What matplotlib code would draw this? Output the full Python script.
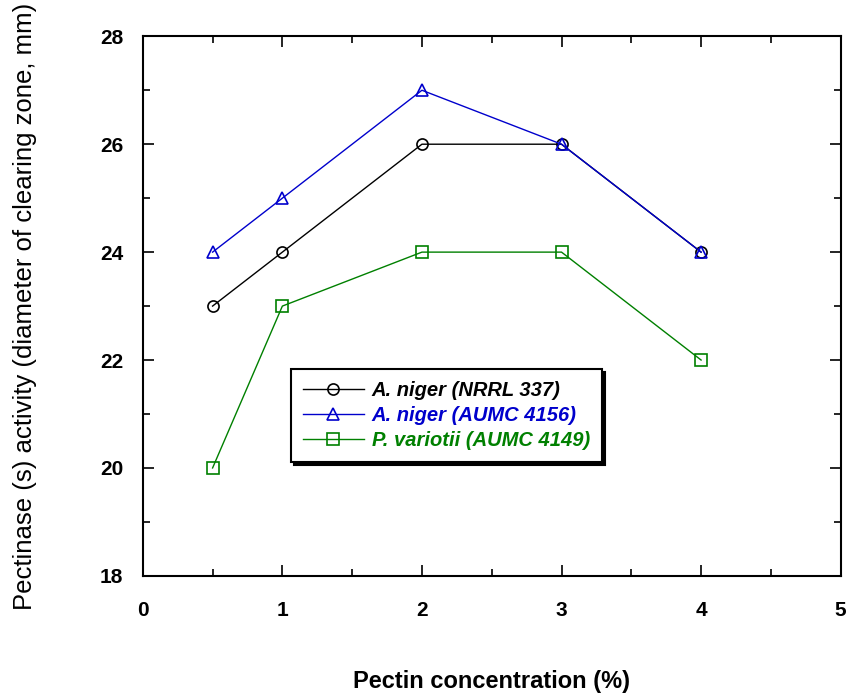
import matplotlib.pyplot as plt
from matplotlib.ticker import MultipleLocator

plt.rcParams['font.family'] = ['Liberation Sans', 'DejaVu Sans']

# Концентрация пектина (%)
conc = [0.5, 1, 2, 3, 4]
# Активность пектиназы (мм)
niger_nrrl = [23, 24, 26, 26, 24]
niger_aumc = [24, 25, 27, 26, 24]
variotii = [20, 23, 24, 24, 22]

labels = ["A. niger (NRRL 337)", "A. niger (AUMC 4156)", "P. variotii (AUMC 4149)"]
colors = ["black", "#0000cc", "#008000"]

fig = plt.figure(figsize=(8.5, 6.98), dpi=100)
ax = fig.add_axes([0.168, 0.175, 0.821, 0.773])

ax.plot(conc, niger_nrrl, color=colors[0], lw=1, marker="o", ms=8, mfc="none", mew=1.2, label=labels[0])
ax.plot(conc, niger_aumc, color=colors[1], lw=1, marker="^", ms=8, mfc="none", mew=1.2, label=labels[1])
ax.plot(conc, variotii, color=colors[2], lw=1, marker="s", ms=8, mfc="none", mew=1.2, label=labels[2])

ax.set_xlim(0, 5)
ax.set_ylim(18, 28)
ax.xaxis.set_major_locator(MultipleLocator(1))
ax.xaxis.set_minor_locator(MultipleLocator(0.5))
ax.yaxis.set_major_locator(MultipleLocator(2))
ax.yaxis.set_minor_locator(MultipleLocator(1))
ax.tick_params(which="both", direction="in", top=True, right=True, width=1.2)
ax.tick_params(which="major", length=8)
ax.tick_params(which="minor", length=5)
ax.tick_params(axis="x", pad=18)
ax.tick_params(axis="y", pad=14)
for lab in ax.get_xticklabels() + ax.get_yticklabels():
    lab.set_fontweight("bold")
    lab.set_fontsize(15)
for sp in ax.spines.values():
    sp.set_linewidth(1.5)

ax.set_xlabel("Pectin concentration (%)", fontsize=17, fontweight="bold", labelpad=36)
ax.set_ylabel("Pectinase (s) activity (diameter of clearing zone, mm)", fontsize=18.5, labelpad=45)

leg = ax.legend(loc="lower left", bbox_to_anchor=(0.198, 0.192), fancybox=False, shadow={"color": "black", "alpha": 1},
                edgecolor="black", framealpha=1, handlelength=3, handletextpad=0.4, borderpad=0.6, labelspacing=0.3,
                prop={"style": "italic", "weight": "bold", "size": 14.5})
leg.get_frame().set_linewidth(1.5)
for t, c in zip(leg.get_texts(), colors):
    t.set_color(c)

fig.savefig("out.png", dpi=100)
